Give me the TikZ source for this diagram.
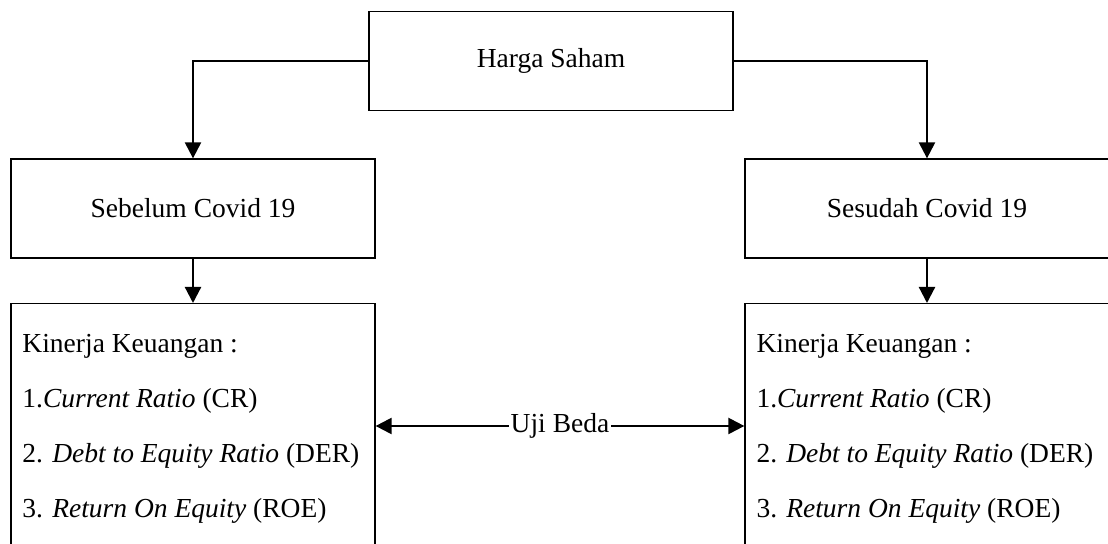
\documentclass[tikz,border=0pt]{standalone}
\usepackage{fontspec}
\setmainfont{Liberation Serif}[ItalicFont={Liberation Serif Italic}]
\usetikzlibrary{arrows.meta}
\newcommand{\bw}[0] {145.6pt}

\tikzset{
  kotak/.style={shape=rectangle, draw=black, line width=0.5pt, minimum width=\bw, minimum height=39.6pt, inner sep=0pt},
  panah/.style={-{Triangle[length=6.4pt,width=6.4pt]}, line width=0.9pt},
  baris/.style={anchor=base west, inner sep=0pt}
}

\begin{document}
\begin{tikzpicture}[x=0.4pt, y=-0.4pt, font=\fontsize{11}{13}\selectfont]
        \useasboundingbox (0,0) rectangle (1108,544);
        \clip (0,0) rectangle (1108,544);

        \node[kotak] (harga) at (551, 61)     {Harga Saham};
        \node[kotak] (sebelum) at (193, 208.5)     {Sebelum Covid 19};
        \node[kotak] (sesudah) at (927, 208.5)     {Sesudah Covid 19};
        \node[kotak, minimum height=104pt, anchor=north] (kiri) at (193, 303)     {};
        \node[kotak, minimum height=104pt, anchor=north] (kanan) at (927, 303)     {};

        %isi kotak kiri
        \node[baris] (k1) at (22, 353)     {Kinerja Keuangan :};
        \node[baris] (k2) at (22, 408)     {1.\textit{Current Ratio} (CR)};
        \node[baris] (k3) at (22, 463)     {2. \textit{Debt to Equity Ratio} (DER)};
        \node[baris] (k4) at (22, 518)     {3. \textit{Return On Equity} (ROE)};

        %isi kotak kanan
        \node[baris] (n1) at (756, 353)     {Kinerja Keuangan :};
        \node[baris] (n2) at (756, 408)     {1.\textit{Current Ratio} (CR)};
        \node[baris] (n3) at (756, 463)     {2. \textit{Debt to Equity Ratio} (DER)};
        \node[baris] (n4) at (756, 518)     {3. \textit{Return On Equity} (ROE)};

        \node[inner sep=0.5pt] (uji) at (560, 426)     {Uji Beda};

        %panah
        \draw[panah] (harga.west) -| (sebelum.north);
        \draw[panah] (harga.east) -| (sesudah.north);
        \draw[panah] (sebelum.south) -- (kiri.north);
        \draw[panah] (sesudah.south) -- (kanan.north);
        \draw[panah] (uji.west) -- (uji.west -| kiri.east);
        \draw[panah] (uji.east) -- (uji.east -| kanan.west);
	\end{tikzpicture}
\end{document}
